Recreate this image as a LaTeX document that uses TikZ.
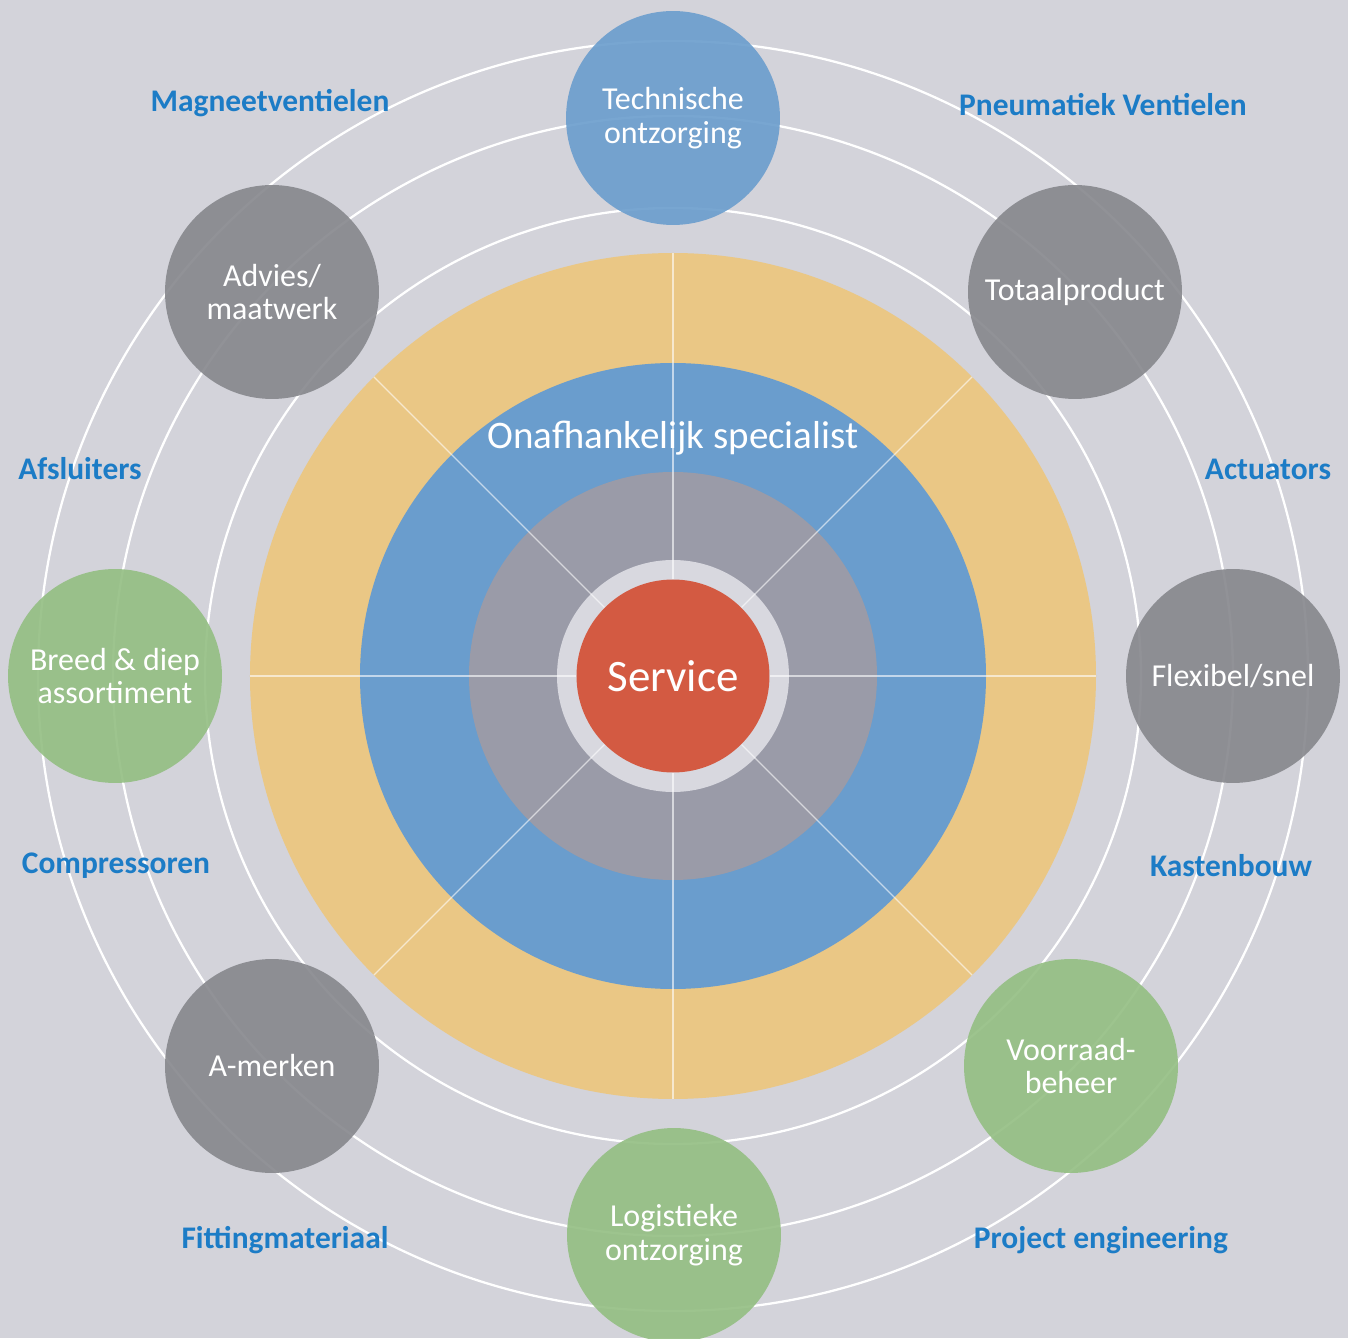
\documentclass[tikz,border=0pt]{standalone}
\usepackage{fontspec}
\setmainfont{Carlito}
\usepackage{tikz}
\usetikzlibrary{positioning}

\definecolor{backgr}{HTML}{D3D3DA}
\definecolor{ringyellow}{HTML}{EAC785}
\definecolor{ringblue}{HTML}{6A9DCD}
\definecolor{ringgrey}{HTML}{9A9BA8}
\definecolor{ringlight}{HTML}{D8D8DF}
\definecolor{servicered}{HTML}{D35A42}
\definecolor{ballgrey}{HTML}{86878C}
\definecolor{ballgreen}{HTML}{93BE82}
\definecolor{ballblue}{HTML}{6A9DCD}
\definecolor{tagblue}{HTML}{1C7CC6}

\tikzstyle{ball} = [circle, minimum size=4.28cm, inner sep=0pt, align=center, text=white, fill opacity=0.9, text opacity=1, font=\fontsize{18.2}{19}\selectfont]
\tikzstyle{tag} = [text=tagblue, inner sep=0pt, font=\fontsize{17.9}{20}\selectfont\bfseries]
\tikzstyle{orbit} = [draw=white, line width=1.3pt]
\tikzstyle{spoke} = [draw=white, draw opacity=0.6, line width=0.8pt]

\begin{document}
\begin{tikzpicture}[x=0.02cm,y=0.02cm]

\fill[backgr] (-673,-662) rectangle (675,676);
\useasboundingbox (-673,-662) rectangle (675,676);

% orbits
\draw[orbit] (0,0) circle (468);
\draw[orbit] (0,0) circle (560);
\draw[orbit] (0,0) circle (635);

% rings
\fill[ringyellow] (0,0) circle (423);
\fill[ringblue] (0,0) circle (313);
\fill[ringgrey] (0,0) circle (204);
\fill[ringlight] (0,0) circle (116);
\foreach \a in {0,45,...,315}
  \draw[spoke] (\a:97) -- (\a:423);

\node[circle, fill=servicered, minimum size=3.86cm, inner sep=0pt, text=white,
  font=\fontsize{25.6}{28}\selectfont] (service) at (0,0) {Service};
\node[text=white, font=\fontsize{22.2}{25}\selectfont] (specialist) at (0,238) {Onafhankelijk specialist};

% balls on the orbit
\node[ball, fill=ballblue] (technisch) at (0,558) {Technische\\ontzorging};
\node[ball, fill=ballgrey] (totaal) at (402,384) {Totaalproduct};
\node[ball, fill=ballgrey] (flexibel) at (560,0) {Flexibel/snel};
\node[ball, fill=ballgreen] (voorraad) at (398,-390) {Voorraad-\\beheer};
\node[ball, fill=ballgreen] (logistiek) at (1,-559) {Logistieke\\ontzorging};
\node[ball, fill=ballgrey] (amerken) at (-401,-390) {A-merken};
\node[ball, fill=ballgreen] (breed) at (-558,0) {Breed \& diep\\assortiment};
\node[ball, fill=ballgrey] (advies) at (-401,384) {Advies/\\maatwerk};

% product tags
\node[tag] (magneet) at (-403,573) {Magneetventielen};
\node[tag] (pneumatiek) at (430,571) {Pneumatiek Ventielen};
\node[tag] (afsluiters) at (-593,207) {Afsluiters};
\node[tag] (actuators) at (595,207) {Actuators};
\node[tag] (compressoren) at (-557,-190) {Compressoren};
\node[tag] (kastenbouw) at (558,-190) {Kastenbouw};
\node[tag] (fitting) at (-388,-564) {Fittingmateriaal};
\node[tag] (project) at (428,-564) {Project engineering};

\end{tikzpicture}
\end{document}
